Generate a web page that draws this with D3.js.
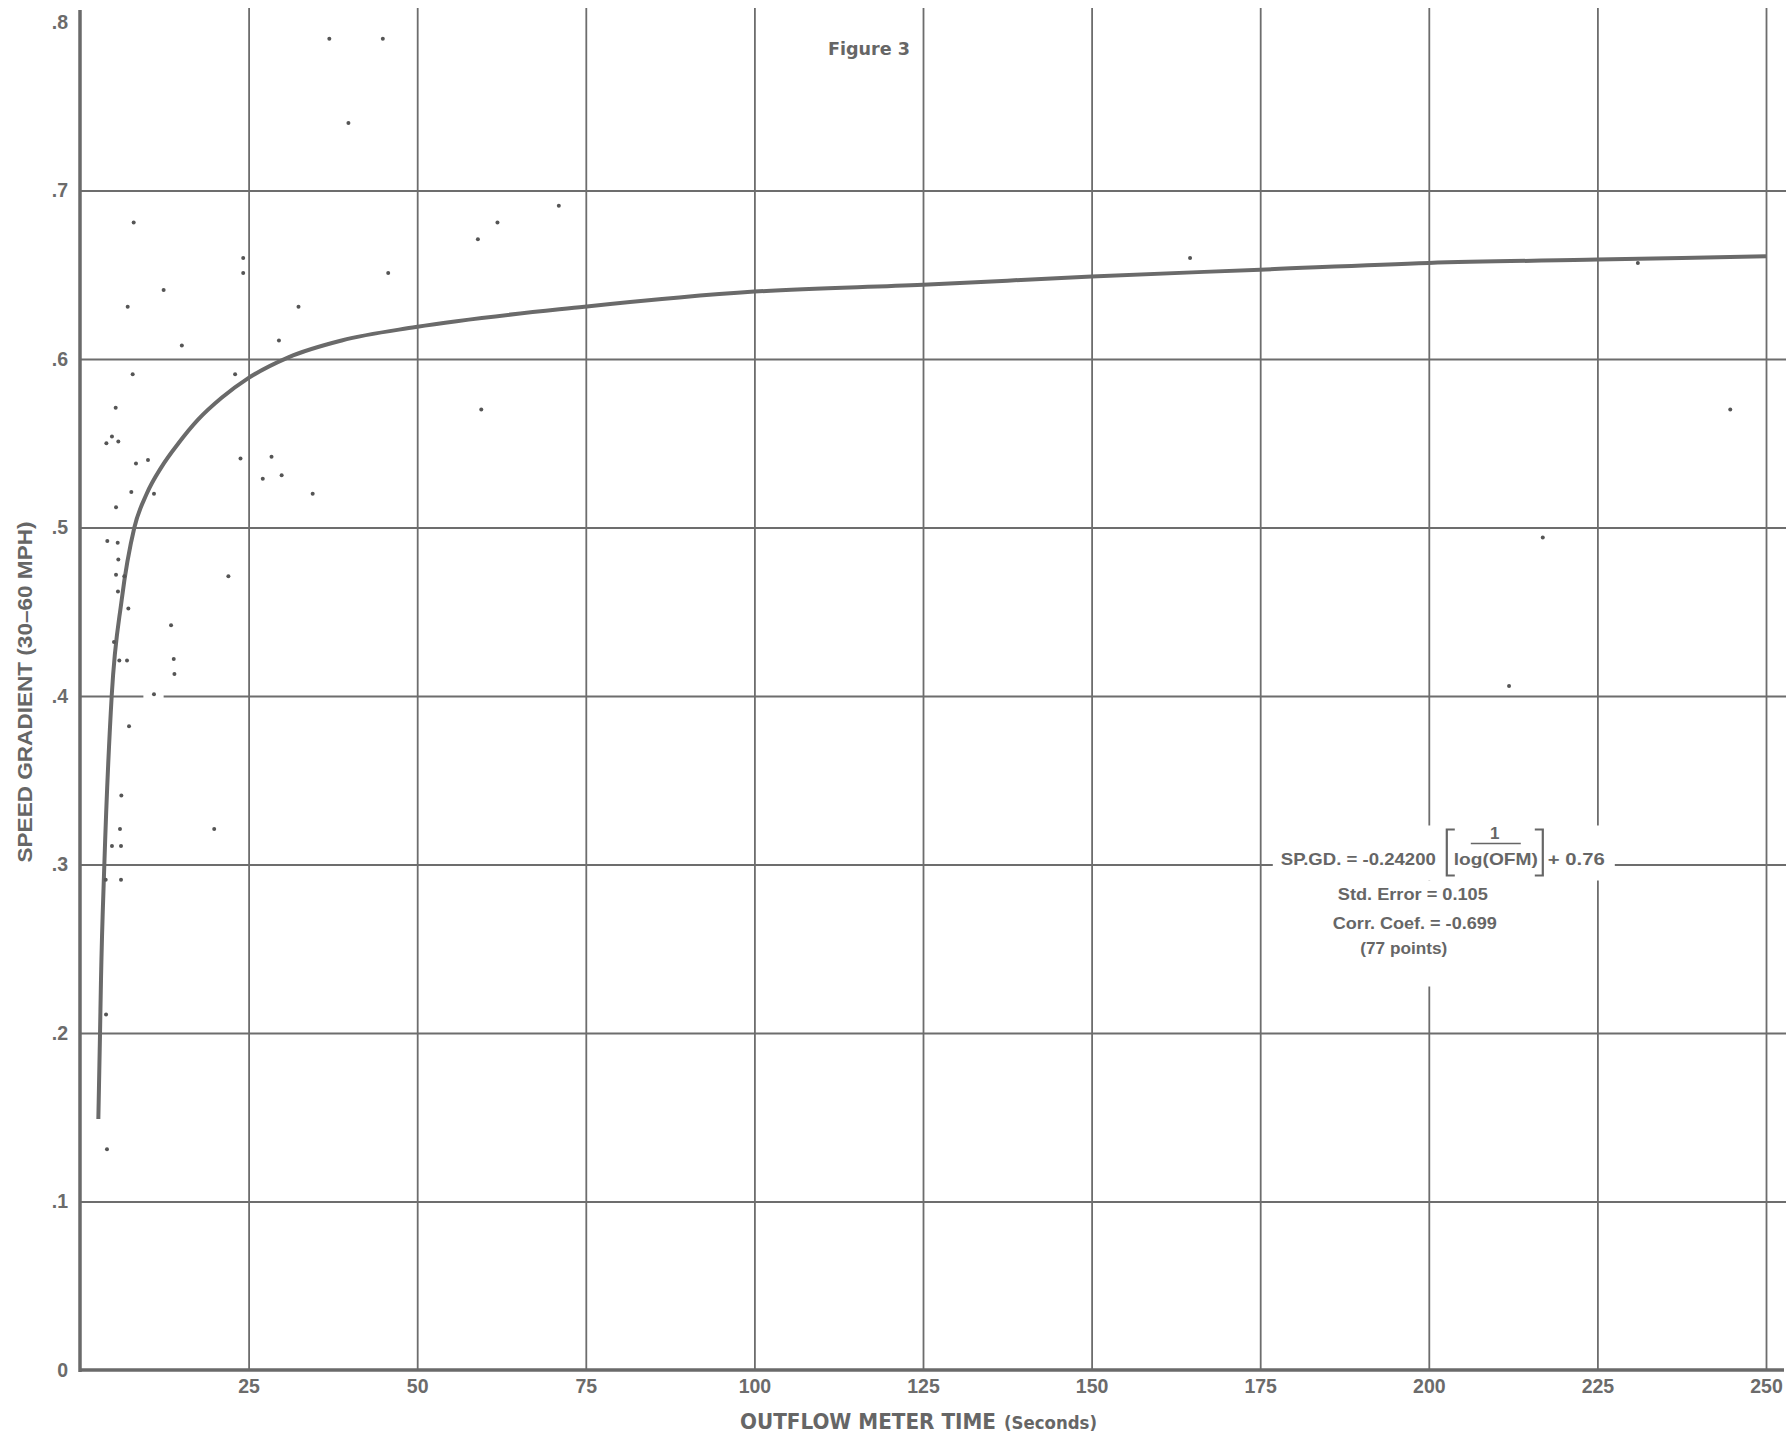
<!DOCTYPE html>
<html>
<head>
<meta charset="utf-8">
<script src="https://cdn.jsdelivr.net/npm/d3@7"></script>
<style>
  html, body { margin: 0; padding: 0; background: #fff; }
  svg { display: block; }
  .tick text { font-family: "Liberation Sans", Arial, Helvetica, sans-serif; font-weight: bold; font-size: 19.5px; fill: #6b6b6b; }
  .tick line { stroke: #6d6d6d; stroke-width: 1.8; }
  .note { font-family: "Liberation Sans", Arial, Helvetica, sans-serif; font-weight: bold; font-size: 17px; fill: #666; }
  .cond { font-family: "Liberation Sans Narrow", "DejaVu Sans Condensed", "Liberation Sans", sans-serif; fill: #666; }
</style>
</head>
<body>
<svg id="chart" width="1786" height="1433"></svg>
<script>
const pointsOFM = [36.97, 44.9, 39.8, 7.96, 24.2, 24.2, 12.4, 7.07, 32.4, 45.7, 15.1, 29.5, 71.0, 61.9, 59.0, 59.5,
  7.81, 23.0, 5.29, 3.91, 4.74, 5.68, 8.30, 10.08, 23.8, 28.4, 27.1, 29.9, 34.5, 7.61, 10.97, 5.34,
  4.05, 5.59, 5.68, 5.34, 6.57, 22.0, 5.63, 7.17, 13.5, 5.04, 5.83, 6.97, 13.9, 14.0, 10.97, 7.27,
  6.13, 5.93, 19.9, 4.74, 6.08, 3.81, 6.08, 3.86, 4.0, 164.6, 231.0, 244.7, 216.9, 211.9];
const pointsSG = [.790, .790, .740, .681, .660, .651, .641, .631, .631, .651, .608, .611, .691, .681, .671, .570,
  .591, .591, .571, .550, .554, .551, .538, .540, .541, .542, .529, .531, .520, .521, .520, .512,
  .492, .491, .481, .472, .471, .471, .462, .452, .442, .432, .421, .421, .422, .413, .401, .382,
  .341, .321, .321, .311, .311, .291, .291, .211, .131, .660, .657, .570, .494, .406];

// fitted curve as drawn
const fitOFM = [2.72, 2.97, 3.11, 3.61, 4.70, 6.18, 8.06, 9.89, 12.1, 14.6, 17.5, 21.0, 24.9, 30.9, 38.8, 49.8,
  74.8, 100, 125, 150, 175, 200, 225, 250];
const fitSG = [.149, .200, .231, .300, .400, .457, .500, .520, .536, .550, .564, .577, .5885, .601, .611, .619,
  .631, .640, .644, .649, .653, .657, .659, .661];

const xTicks = [25, 50, 75, 100, 125, 150, 175, 200, 225, 250];
const xTickLabels = ["25", "50", "75", "100", "125", "150", "175", "200", "225", "250"];
const yTicks = [0, 0.1, 0.2, 0.3, 0.4, 0.5, 0.6, 0.7, 0.8];
const yTickLabels = ["0", ".1", ".2", ".3", ".4", ".5", ".6", ".7", ".8"];

const W = 1786, H = 1433;
const ink = "#6a6a6a";

const svg = d3.select("#chart");
const x = d3.scaleLinear().domain([0, 250]).range([80, 1766]);
const y = d3.scaleLinear().domain([0, 0.8]).range([1370, 22]);

// vertical grid + x labels
const gx = svg.append("g")
  .attr("transform", `translate(0,${y(0)})`)
  .call(d3.axisBottom(x).tickValues(xTicks)
    .tickFormat((d, i) => xTickLabels[i])
    .tickSize(-(y(0) - 8)).tickPadding(9));
gx.select(".domain").remove();

// horizontal grid + y labels
const gy = svg.append("g")
  .attr("transform", `translate(${x(0)},0)`)
  .call(d3.axisLeft(y).tickValues(yTicks)
    .tickFormat((d, i) => yTickLabels[i])
    .tickSize(-(W - x(0))).tickPadding(12));
gy.select(".domain").remove();
gy.selectAll(".tick").filter(d => d === 0 || d === 0.8).select("line").remove();

// small break in the .4 line
svg.append("rect")
  .attr("x", x(9.4)).attr("y", y(0.4) - 3)
  .attr("width", x(12.4) - x(9.4)).attr("height", 6)
  .attr("fill", "#fff");

// axes
svg.append("line")
  .attr("x1", x(0)).attr("x2", x(250) + 18)
  .attr("y1", y(0)).attr("y2", y(0))
  .attr("stroke", ink).attr("stroke-width", 3.5);
svg.append("line")
  .attr("x1", x(0)).attr("x2", x(0))
  .attr("y1", y(0) + 2).attr("y2", y(0.8) - 12)
  .attr("stroke", ink).attr("stroke-width", 3.5);

// equation block, placed against the 200 s / .3 grid crossing
const ax = x(200), ay = y(0.3);
svg.append("rect").attr("x", ax - 156).attr("y", ay - 39).attr("width", 342).attr("height", 55).attr("fill", "#fff");
svg.append("rect").attr("x", ax - 99).attr("y", ay + 16).attr("width", 170).attr("height", 106).attr("fill", "#fff");

svg.append("text").attr("class", "note").attr("x", ax - 148).attr("y", ay)
  .attr("textLength", 155).attr("lengthAdjust", "spacingAndGlyphs")
  .text("SP.GD. = -0.24200");
svg.append("text").attr("class", "note").attr("x", ax + 67).attr("y", ay)
  .attr("text-anchor", "middle").attr("textLength", 84).attr("lengthAdjust", "spacingAndGlyphs")
  .text("log(OFM)");
svg.append("text").attr("class", "note").attr("x", ax + 66).attr("y", ay - 26)
  .attr("text-anchor", "middle").text("1");
svg.append("line").attr("x1", ax + 42).attr("x2", ax + 92).attr("y1", ay - 21).attr("y2", ay - 21)
  .attr("stroke", "#666").attr("stroke-width", 1.6);
svg.append("path")
  .attr("d", `M${ax + 26},${ay - 35}H${ax + 18}V${ay + 11}H${ax + 26}`)
  .attr("fill", "none").attr("stroke", "#666").attr("stroke-width", 2.2);
svg.append("path")
  .attr("d", `M${ax + 106},${ay - 35}H${ax + 114}V${ay + 11}H${ax + 106}`)
  .attr("fill", "none").attr("stroke", "#666").attr("stroke-width", 2.2);
svg.append("text").attr("class", "note").attr("x", ax + 119).attr("y", ay)
  .attr("textLength", 57).attr("lengthAdjust", "spacingAndGlyphs")
  .text("+ 0.76");
svg.append("text").attr("class", "note").attr("x", ax - 16).attr("y", ay + 35)
  .attr("text-anchor", "middle").attr("textLength", 150).attr("lengthAdjust", "spacingAndGlyphs")
  .text("Std. Error = 0.105");
svg.append("text").attr("class", "note").attr("x", ax - 14).attr("y", ay + 64)
  .attr("text-anchor", "middle").attr("textLength", 164).attr("lengthAdjust", "spacingAndGlyphs")
  .text("Corr. Coef. = -0.699");
svg.append("text").attr("class", "note").attr("x", ax - 25).attr("y", ay + 89)
  .attr("text-anchor", "middle").attr("textLength", 87).attr("lengthAdjust", "spacingAndGlyphs")
  .text("(77 points)");

// fitted curve
const fit = fitOFM.map((v, i) => [v, fitSG[i]]);
svg.append("path")
  .datum(fit)
  .attr("fill", "none")
  .attr("stroke", ink)
  .attr("stroke-width", 4)
  .attr("d", d3.line().x(d => x(d[0])).y(d => y(d[1])).curve(d3.curveMonotoneX));

// scatter
const pts = pointsOFM.map((v, i) => ({ ofm: v, sg: pointsSG[i] }));
svg.selectAll("circle.pt")
  .data(pts)
  .enter()
  .append("circle")
  .attr("class", "pt")
  .attr("cx", d => x(d.ofm))
  .attr("cy", d => y(d.sg))
  .attr("r", 2)
  .attr("fill", "#555");

// titles
svg.append("text").attr("class", "cond")
  .attr("x", 828).attr("y", 55)
  .attr("font-size", 18).attr("font-weight", "bold")
  .attr("textLength", 82).attr("lengthAdjust", "spacingAndGlyphs")
  .text("Figure 3");

svg.append("text").attr("class", "cond")
  .attr("x", 740).attr("y", 1429)
  .attr("font-size", 21).attr("font-weight", "bold")
  .attr("textLength", 256).attr("lengthAdjust", "spacingAndGlyphs")
  .text("OUTFLOW METER TIME");
svg.append("text").attr("class", "cond")
  .attr("x", 1004).attr("y", 1429)
  .attr("font-size", 18).attr("font-weight", "bold")
  .attr("textLength", 93).attr("lengthAdjust", "spacingAndGlyphs")
  .text("(Seconds)");

svg.append("text")
  .attr("transform", "translate(32,692) rotate(-90)")
  .attr("text-anchor", "middle")
  .attr("font-family", "'Liberation Sans', Arial, sans-serif")
  .attr("font-weight", "bold").attr("font-size", 20).attr("fill", "#666")
  .attr("textLength", 341).attr("lengthAdjust", "spacingAndGlyphs")
  .text("SPEED GRADIENT (30–60 MPH)");
</script>
</body>
</html>
